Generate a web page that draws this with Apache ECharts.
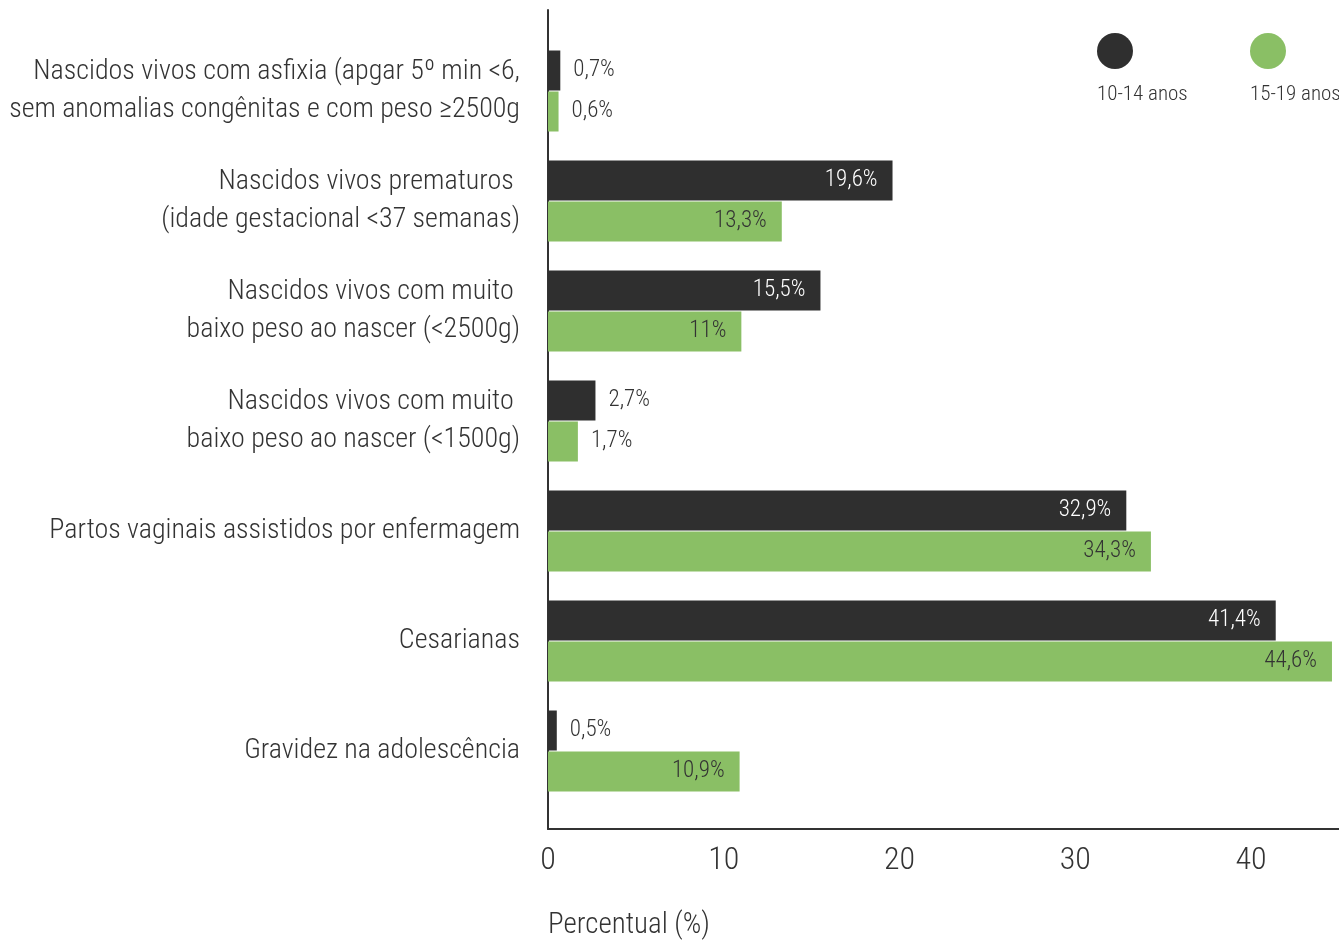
<!DOCTYPE html>
<html><head><meta charset="utf-8">
<script src="https://cdn.jsdelivr.net/npm/echarts@6/dist/echarts.min.js"></script>
<style>html,body{margin:0;padding:0;background:#fff}#c{width:1339px;height:940px}</style>
</head><body><div id="c"></div>
<script>
const categories = [
  'Nascidos vivos com asfixia (apgar 5º min <6,\nsem anomalias congênitas e com peso ≥2500g',
  'Nascidos vivos prematuros \n(idade gestacional <37 semanas)',
  'Nascidos vivos com muito \nbaixo peso ao nascer (<2500g)',
  'Nascidos vivos com muito \nbaixo peso ao nascer (<1500g)',
  'Partos vaginais assistidos por enfermagem',
  'Cesarianas',
  'Gravidez na adolescência'
];
const seriesNames = ['10-14 anos', '15-19 anos'];
const values1014 = [0.7, 19.6, 15.5, 2.7, 32.9, 41.4, 0.5];
const values1519 = [0.6, 13.3, 11, 1.7, 34.3, 44.6, 10.9];
const xTicks = [0, 10, 20, 30, 40];

const FONT = "'Roboto Condensed','DejaVu Sans Condensed',sans-serif";
const colors = ['#2f2f2f', '#8abf65'];
const fmt = v => String(v).replace('.', ',') + '%';

function buildData(vals, insideColor) {
  return vals.map(v => ({
    value: v,
    label: v < 5
      ? {position: 'right', distance: 13, color: '#333'}
      : {position: 'insideRight', distance: 15, color: insideColor}
  }));
}

const chart = echarts.init(document.getElementById('c'), null, {renderer: 'canvas'});
chart.setOption({
  animation: false,
  color: colors,
  grid: [
    {left: 548, right: 0, top: 36, bottom: 134, containLabel: false, outerBoundsMode: 'none'},
    {left: 548, right: 0, top: 10, bottom: 111, containLabel: false, outerBoundsMode: 'none'}
  ],
  xAxis: [
    {gridIndex: 0, type: 'value', min: 0, max: 45, show: false},
    {gridIndex: 1, type: 'value', min: 0, max: 45, interval: 10,
     axisLine: {show: true, lineStyle: {color: '#333', width: 2}},
     axisTick: {show: false}, splitLine: {show: false},
     axisLabel: {fontFamily: FONT, fontSize: 32, fontWeight: 300, color: '#333', margin: 16,
       formatter: v => xTicks.includes(v) ? String(v) : ''}}
  ],
  yAxis: [
    {gridIndex: 0, type: 'category', data: categories, inverse: true,
     axisLine: {show: false}, axisTick: {show: false},
     axisLabel: {fontFamily: FONT, fontSize: 28, fontWeight: 300, color: '#333', margin: 28, lineHeight: 38, align: 'right'}},
    {gridIndex: 1, type: 'value', min: 0, max: 1, axisLine: {show: true, onZero: false, lineStyle: {color: '#333', width: 2}},
     axisLabel: {show: false}, axisTick: {show: false}, splitLine: {show: false}}
  ],
  title: {text: 'Percentual (%)', left: 548, top: 911, padding: 0,
    textStyle: {fontFamily: FONT, fontSize: 29, fontWeight: 300, color: '#333'}},
  graphic: seriesNames.map((n, i) => ({
    type: 'group', left: 1097 + i * 153, top: 33,
    children: [
      {type: 'circle', shape: {cx: 18, cy: 18, r: 18}, style: {fill: colors[i]}},
      {type: 'text', x: 0, y: 51, style: {text: n, fill: '#333', font: "300 21px " + FONT}}
    ]
  })),
  series: [
    {name: seriesNames[0], type: 'bar', xAxisIndex: 0, yAxisIndex: 0, barWidth: 40, barGap: '2.5%',
     data: buildData(values1014, '#fff'),
     label: {show: true, fontFamily: FONT, fontSize: 23, fontWeight: 300, formatter: p => fmt(p.value)}},
    {name: seriesNames[1], type: 'bar', xAxisIndex: 0, yAxisIndex: 0, barWidth: 40, barGap: '2.5%',
     data: buildData(values1519, '#333'),
     label: {show: true, fontFamily: FONT, fontSize: 23, fontWeight: 300, formatter: p => fmt(p.value)}}
  ]
});
</script></body></html>
